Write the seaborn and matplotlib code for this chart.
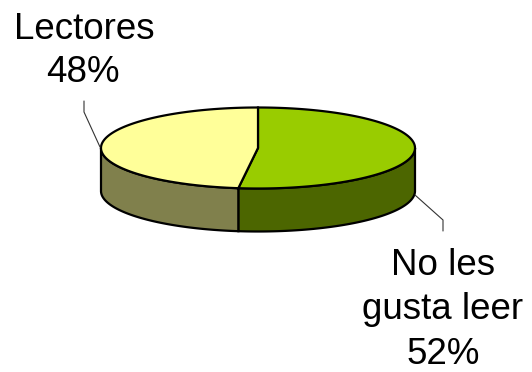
import numpy as np
import matplotlib
matplotlib.use("Agg")
import matplotlib.pyplot as plt
import seaborn as sns

categories = ["No les\ngusta leer", "Lectores"]
values = [52, 48]
top_colors = ["#99CC00", "#FFFF99"]
side_colors = ["#4C6600", "#80804C"]

sns.set_theme(style="white")
plt.rcParams['font.family'] = ['Liberation Sans', 'DejaVu Sans']

W, H = 532, 372
fig = plt.figure(figsize=(W / 100, H / 100), dpi=100)
ax = fig.add_axes([0, 0, 1, 1])
ax.set_xlim(0, W)
ax.set_ylim(H, 0)
ax.axis("off")

cx, cy, a, b, depth = 258, 148, 157, 40.5, 43

def pt(t, dy=0.0):
    r = np.deg2rad(t)
    return cx + a * np.cos(r), cy - b * np.sin(r) + dy

total = sum(values)
start = 90.0
slices = []
for v in values:
    end = start - 360.0 * v / total
    slices.append((end, start))
    start = end

# side faces (visible front half: angles -180..0, modulo 360)
for (t0, t1), col in zip(slices, side_colors):
    for shift in (0, 360, -360):
        lo = max(t0 + shift, -180)
        hi = min(t1 + shift, 0)
        if hi > lo:
            ts = np.linspace(lo, hi, 200)
            xs_top, ys_top = pt(ts)
            xs_bot, ys_bot = pt(ts[::-1], depth)
            xs = np.concatenate([xs_top, xs_bot])
            ys = np.concatenate([ys_top, ys_bot])
            ax.fill(xs, ys, facecolor=col, edgecolor="black", linewidth=1.6, zorder=1)

# top faces
for (t0, t1), col in zip(slices, top_colors):
    ts = np.linspace(t0, t1, 300)
    xs, ys = pt(ts)
    xs = np.concatenate([[cx], xs, [cx]])
    ys = np.concatenate([[cy], ys, [cy]])
    ax.fill(xs, ys, facecolor=col, edgecolor="black", linewidth=1.6, zorder=2)

# labels with leader lines
fs = 26.5
# No les gusta leer (right)
ax.plot([415, 443, 443], [195, 220, 231], color="#333333", lw=0.8, zorder=3)
lbl0 = categories[0].split("\n")
ax.text(443, 275, lbl0[0], ha="center", va="baseline", fontsize=fs, color="black")
ax.text(443, 319, lbl0[1], ha="center", va="baseline", fontsize=fs, color="black")
ax.text(443, 364, f"{values[0]}%", ha="center", va="baseline", fontsize=fs, color="black")
# Lectores (left)
ax.plot([100, 84, 84], [147, 112, 101], color="#333333", lw=0.8, zorder=3)
ax.text(84, 39, categories[1], ha="center", va="baseline", fontsize=fs, color="black")
ax.text(83, 82, f"{values[1]}%", ha="center", va="baseline", fontsize=fs, color="black")

fig.savefig("out.png", dpi=100, facecolor="white")
